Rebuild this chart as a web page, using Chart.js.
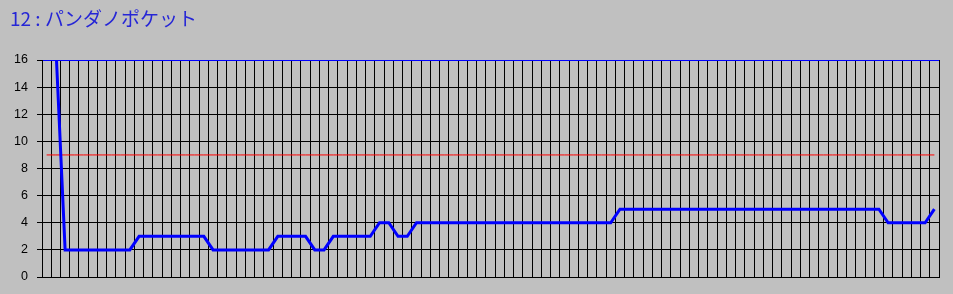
<!DOCTYPE html>
<html>
<head>
<meta charset="utf-8">
<script src="https://cdn.jsdelivr.net/npm/chart.js@4"></script>
<style>
html,body{margin:0;padding:0;background:#c0c0c0;}
#wrap{width:953px;height:294px;position:relative;}
canvas{display:block;}
</style>
</head>
<body>
<div id="wrap"><canvas id="c" width="953" height="294"></canvas></div>
<script>
const titleText = '12 : パンダノポケット';

const categories = ['1','2','3','4','5','6','7','8','9','10',
'11','12','13','14','15','16','17','18','19','20',
'21','22','23','24','25','26','27','28','29','30',
'31','32','33','34','35','36','37','38','39','40',
'41','42','43','44','45','46','47','48','49','50',
'51','52','53','54','55','56','57','58','59','60',
'61','62','63','64','65','66','67','68','69','70',
'71','72','73','74','75','76','77','78','79','80',
'81','82','83','84','85','86','87','88','89','90',
'91','92','93','94','95','96','97'];

const rankValues = [18,17,
2,2,2,2,2,2,2,2,
3,3,3,3,3,3,3,3,
2,2,2,2,2,2,2,
3,3,3,3,
2,2,
3,3,3,3,3,
4,4,
3,3,
4,4,4,4,4,4,4,4,4,4,4,4,4,4,4,4,4,4,4,4,4,4,
5,5,5,5,5,5,5,5,5,5,5,5,5,5,5,5,5,5,5,5,5,5,5,5,5,5,5,5,5,
4,4,4,4,4,
5];

const referenceValues = [9,9,9,9,9,9,9,9,9,9,
9,9,9,9,9,9,9,9,9,9,
9,9,9,9,9,9,9,9,9,9,
9,9,9,9,9,9,9,9,9,9,
9,9,9,9,9,9,9,9,9,9,
9,9,9,9,9,9,9,9,9,9,
9,9,9,9,9,9,9,9,9,9,
9,9,9,9,9,9,9,9,9,9,
9,9,9,9,9,9,9,9,9,9,
9,9,9,9,9,9,9];

const yTickValues = [0,2,4,6,8,10,12,14,16];

new Chart(document.getElementById('c'), {
  type: 'line',
  data: {
    labels: categories,
    datasets: [
      {
        data: rankValues,
        borderColor: '#0000ff',
        borderWidth: 3,
        pointRadius: 0,
        tension: 0,
        fill: false
      },
      {
        data: referenceValues,
        borderColor: '#ff0000',
        borderWidth: 1,
        pointRadius: 0,
        tension: 0,
        fill: false
      }
    ]
  },
  options: {
    responsive: false,
    animation: false,
    devicePixelRatio: 1,
    layout: { padding: { left: 10, right: 14, top: 0, bottom: 17 } },
    plugins: {
      legend: { display: false },
      tooltip: { enabled: false },
      title: {
        display: true,
        text: titleText,
        align: 'start',
        color: '#2626d6',
        font: { family: '"Noto Sans CJK JP", sans-serif', size: 19, weight: 'normal', lineHeight: '24px' },
        padding: { top: 7, bottom: 29 }
      }
    },
    scales: {
      x: {
        type: 'category',
        offset: true,
        grid: { offset: true, color: '#000000', lineWidth: 1, drawTicks: false },
        border: { color: '#000000' },
        ticks: { display: false }
      },
      y: {
        min: 0,
        max: 16,
        afterBuildTicks: (s) => { s.ticks = yTickValues.map(v => ({ value: v })); },
        afterFit: (s) => { s.width = 32; },
        grid: {
          color: (ctx) => (ctx.tick && ctx.tick.value === 16) ? '#0000ff' : '#000000',
          tickColor: '#000000',
          tickLength: 5,
          lineWidth: 1
        },
        border: { color: '#000000' },
        ticks: {
          color: '#000000',
          padding: 9,
          font: { family: '"Liberation Sans", Arial, sans-serif', size: 12.5 }
        }
      }
    }
  }
});
</script>
</body>
</html>
